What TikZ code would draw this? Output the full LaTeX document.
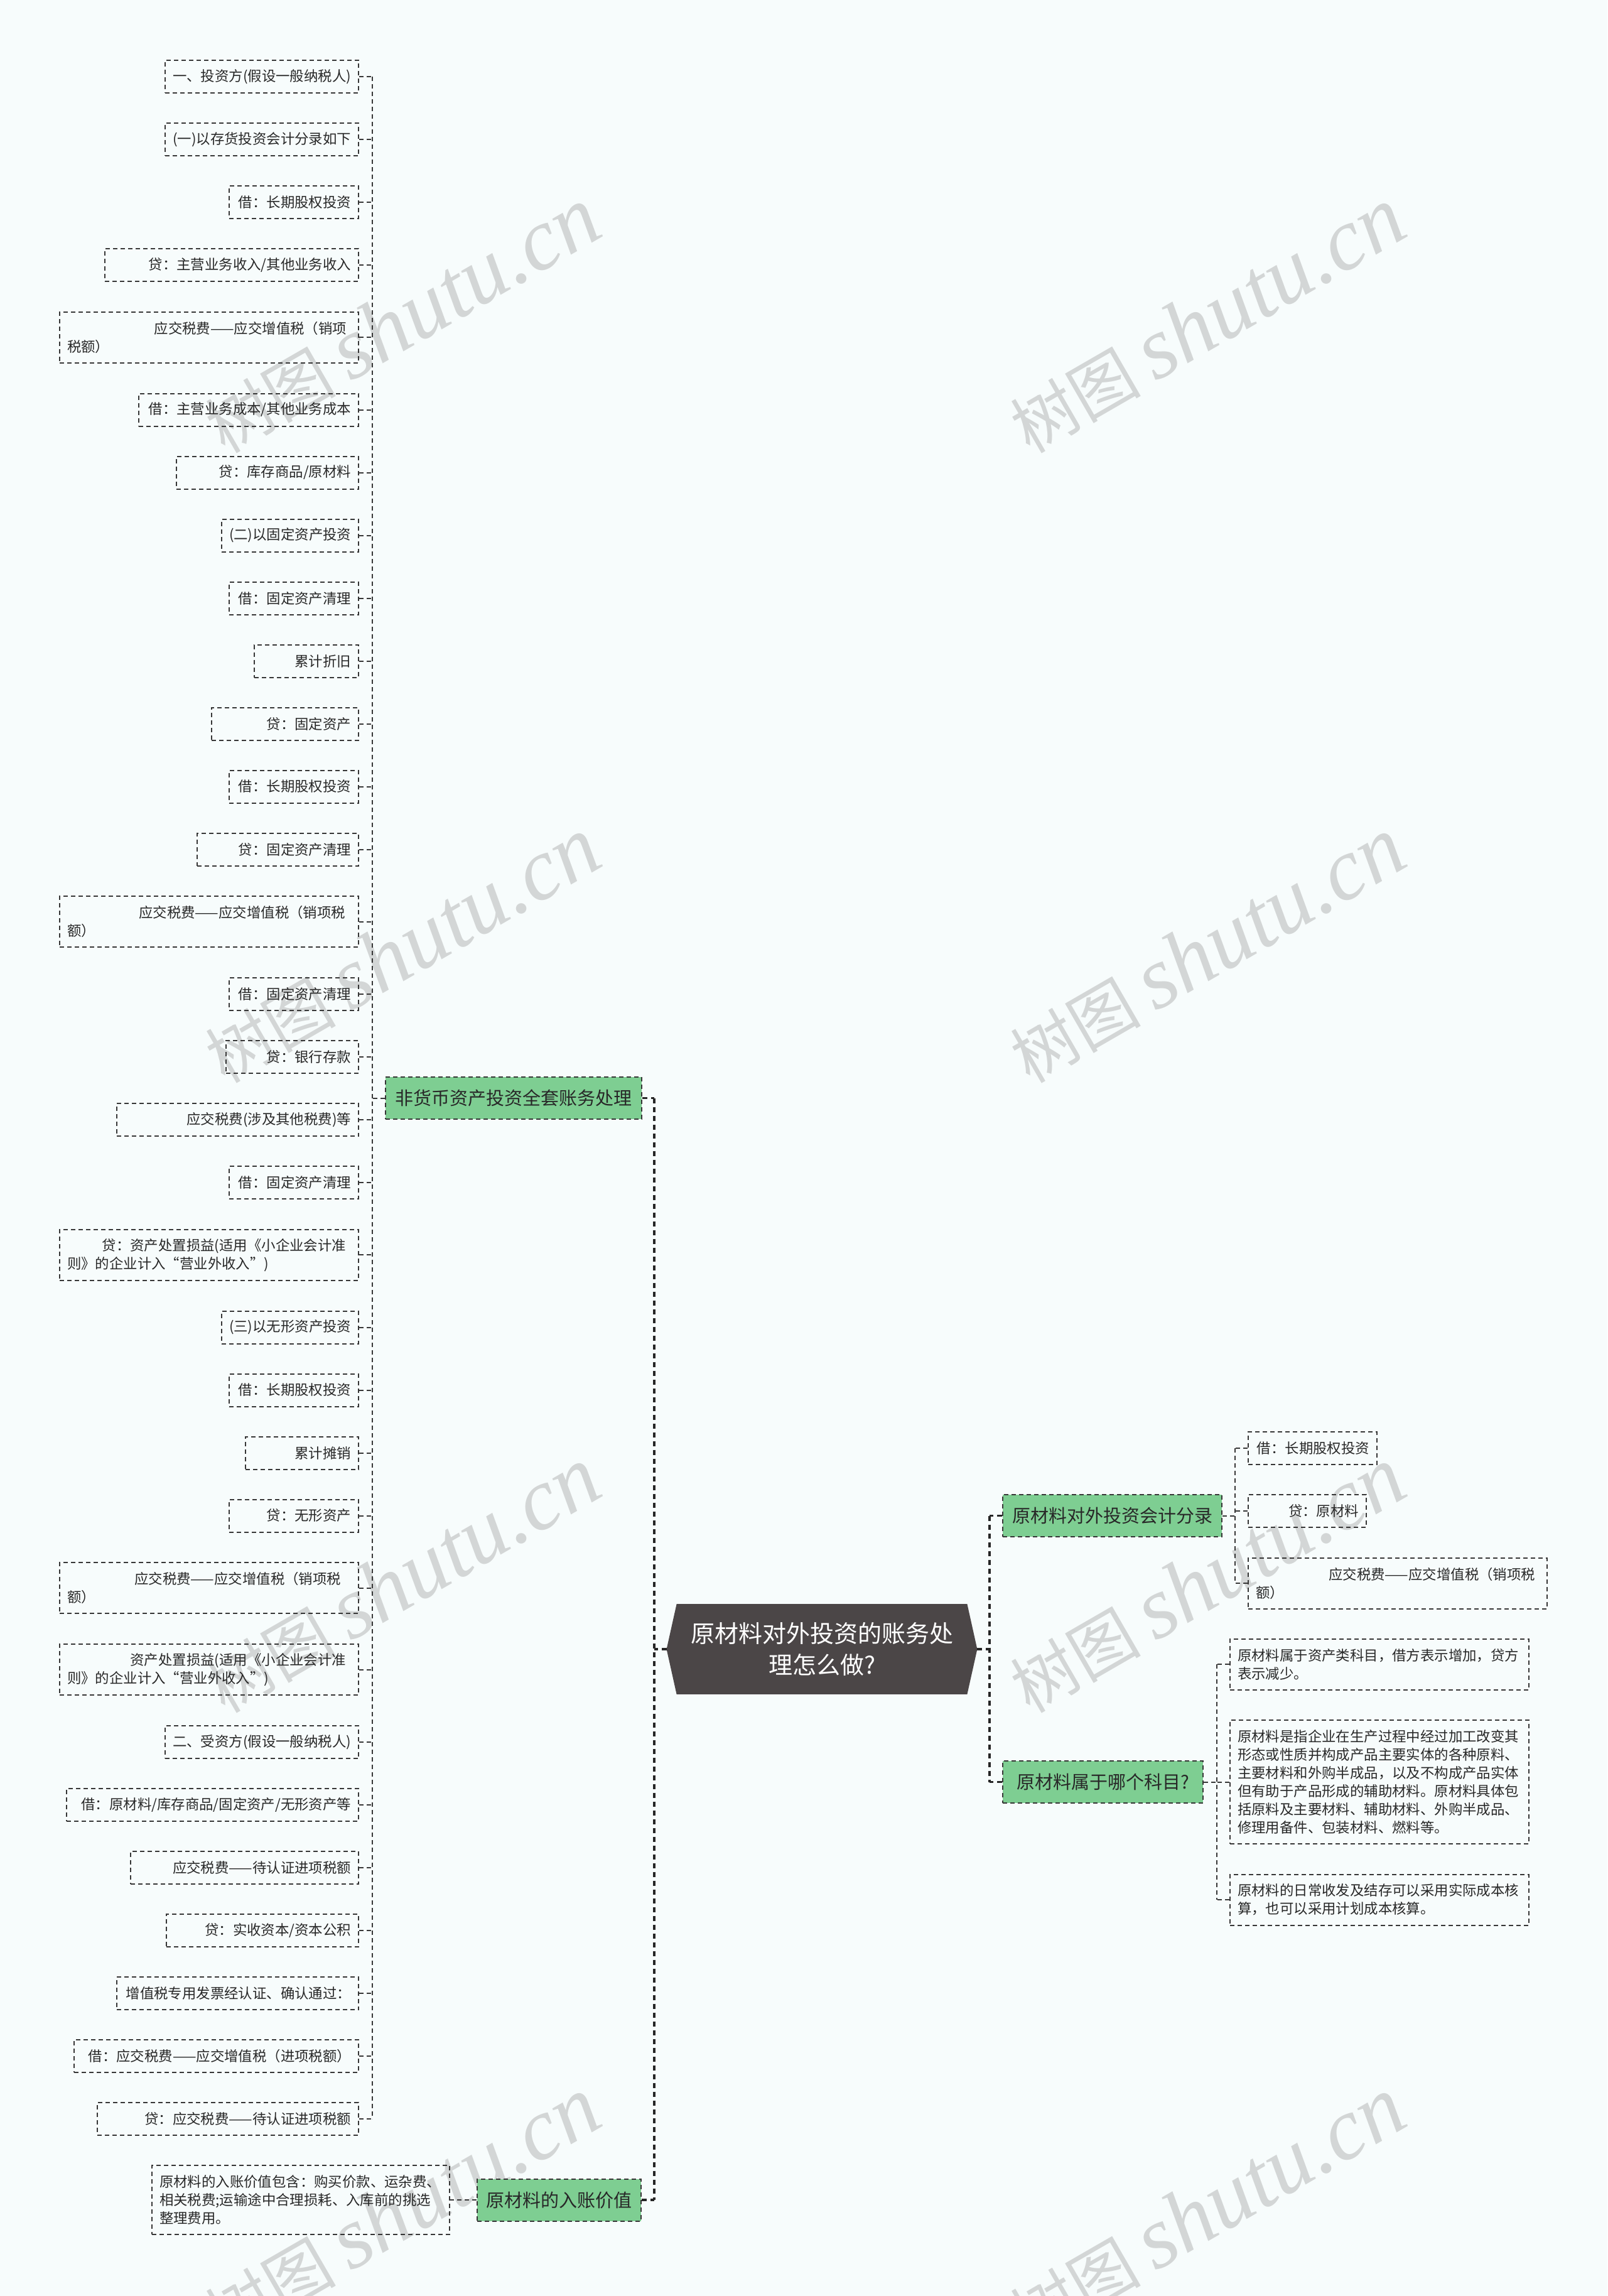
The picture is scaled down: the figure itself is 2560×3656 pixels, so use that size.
\documentclass[tikz,border=0pt]{standalone}
\usepackage{fontspec}
\setmainfont{Noto Sans CJK SC}
\newfontfamily\wmserif{Liberation Serif}
\usetikzlibrary{calc,backgrounds}
\pgfdeclarelayer{bottomlayer}
\pgfsetlayers{bottomlayer,background,main}
\definecolor{bgC}{RGB}{247,252,252}
\definecolor{lineC}{RGB}{55,55,55}
\definecolor{txtC}{RGB}{40,40,40}
\definecolor{greenC}{RGB}{126,206,146}
\definecolor{rootC}{RGB}{75,70,71}
\definecolor{wmC}{RGB}{211,214,214}
\tikzset{
  dashpat/.style={dash pattern=on 3.5pt off 2.5pt},
  leafbox/.style={draw=lineC, dashpat, line width=1pt, text=txtC,
    font=\fontsize{11.2}{14.5}\selectfont, inner xsep=6pt, inner ysep=0pt},
  lfR/.style 2 args={leafbox, align=right, text width=#1pt, minimum height=#2pt},
  lfL/.style 2 args={leafbox, align=left, text width=#1pt, minimum height=#2pt},
  gnode/.style={fill=greenC, draw=lineC, dashpat, line width=1pt, text=txtC,
    font=\fontsize{14.5}{18}\selectfont, inner sep=0pt, minimum height=33.5pt},
  rootnode/.style={text=white, font=\fontsize{19}{25}\selectfont, align=center,
    inner sep=0pt, minimum width=247pt, minimum height=71.5pt},
  conn/.style={draw=lineC, dashpat, line width=1pt},
  rconn/.style={draw=black!85, dash pattern=on 4pt off 3pt, line width=1.6pt},
  wm/.style={text=wmC, inner sep=0pt, rotate=30, font=\fontsize{52}{60}\selectfont}
}
\newcommand{\wmtext}{树图 {\wmserif\itshape\fontsize{70}{80}\selectfont shutu.cn}}
\begin{document}
\begin{tikzpicture}[x=0.5pt, y=-0.5pt]
\useasboundingbox (0,0) rectangle (2560,3656);
\begin{pgfonlayer}{bottomlayer}
\fill[bgC] (0,0) rectangle (2560,3656);
\begin{scope}
\clip (0,0) rectangle (2560,3656);
\node[wm] (w1) at (640,510) {\wmtext};
\node[wm] (w2) at (1922,510) {\wmtext};
\node[wm] (w3) at (640,1513) {\wmtext};
\node[wm] (w4) at (1922,1513) {\wmtext};
\node[wm] (w5) at (640,2516) {\wmtext};
\node[wm] (w6) at (1922,2516) {\wmtext};
\node[wm] (w7) at (640,3519) {\wmtext};
\node[wm] (w8) at (1922,3519) {\wmtext};
\end{scope}
\end{pgfonlayer}

% root
\node[rootnode] (root) at (1309,2626) {原材料对外投资的账务处\\理怎么做?};
\begin{pgfonlayer}{background}
\fill[rootC] ([xshift=8pt]root.north west) -- ([xshift=-8pt]root.north east) -- (root.east)
  -- ([xshift=-8pt]root.south east) -- ([xshift=8pt]root.south west) -- (root.west) -- cycle;
\end{pgfonlayer}

% level 1
\node[gnode, minimum width=204pt] (A) at (818,1748.5) {非货币资产投资全套账务处理};
\node[gnode, minimum width=130.5pt] (B) at (890.5,3503) {原材料的入账价值};
\node[gnode, minimum width=174.5pt] (C) at (1771.5,2413.5) {原材料对外投资会计分录};
\node[gnode, minimum width=159.5pt] (D) at (1756.5,2837.5) {原材料属于哪个科目?};

% left leaves
\node[lfR={142.25}{26}, anchor=east] (l1) at (572,122) {一、投资方(假设一般纳税人)};
\node[lfR={142.25}{26}, anchor=east] (l2) at (572,222) {(一)以存货投资会计分录如下};
\node[lfR={91}{26}, anchor=east] (l3) at (572,322) {借：长期股权投资};
\node[lfR={190}{26}, anchor=east] (l4) at (572,422) {贷：主营业务收入/其他业务收入};
\node[lfL={226}{40.5}, anchor=east] (l5) at (572,537.25) {\makebox[\linewidth][r]{应交税费——应交增值税（销项\hspace*{3.5pt}}\\税额）};
\node[lfR={163.25}{26}, anchor=east] (l6) at (572,652.5) {借：主营业务成本/其他业务成本};
\node[lfR={133}{26}, anchor=east] (l7) at (572,752.5) {贷：库存商品/原材料};
\node[lfR={97}{26}, anchor=east] (l8) at (572,852.5) {(二)以固定资产投资};
\node[lfR={91}{26}, anchor=east] (l9) at (572,952.5) {借：固定资产清理};
\node[lfR={71}{26}, anchor=east] (l10) at (572,1052.5) {累计折旧};
\node[lfR={105}{26}, anchor=east] (l11) at (572,1152.5) {贷：固定资产};
\node[lfR={91}{26}, anchor=east] (l12) at (572,1252.5) {借：长期股权投资};
\node[lfR={116.5}{26}, anchor=east] (l13) at (572,1352.5) {贷：固定资产清理};
\node[lfL={226}{40.5}, anchor=east] (l14) at (572,1467.75) {\makebox[\linewidth][r]{应交税费——应交增值税（销项税\hspace*{4.5pt}}\\额）};
\node[lfR={91}{26}, anchor=east] (l15) at (572,1583) {借：固定资产清理};
\node[lfR={93.5}{26}, anchor=east] (l16) at (572,1683) {贷：银行存款};
\node[lfR={180.75}{26}, anchor=east] (l17) at (572,1783) {应交税费(涉及其他税费)等};
\node[lfR={91}{26}, anchor=east] (l18) at (572,1883) {借：固定资产清理};
\node[lfL={226}{40.5}, anchor=east] (l19) at (572,1998.25) {\makebox[\linewidth][r]{贷：资产处置损益(适用《小企业会计准\hspace*{4pt}}\\则》的企业计入“营业外收入”)};
\node[lfR={97}{26}, anchor=east] (l20) at (572,2113.5) {(三)以无形资产投资};
\node[lfR={91}{26}, anchor=east] (l21) at (572,2213.5) {借：长期股权投资};
\node[lfR={78}{26}, anchor=east] (l22) at (572,2313.5) {累计摊销};
\node[lfR={91}{26}, anchor=east] (l23) at (572,2413.5) {贷：无形资产};
\node[lfL={226}{40.5}, anchor=east] (l24) at (572,2528.75) {\makebox[\linewidth][r]{应交税费——应交增值税（销项税\hspace*{8pt}}\\额）};
\node[lfL={226}{40.5}, anchor=east] (l25) at (572,2658.75) {\makebox[\linewidth][r]{资产处置损益(适用《小企业会计准\hspace*{4pt}}\\则》的企业计入“营业外收入”)};
\node[lfR={142.25}{26}, anchor=east] (l26) at (572,2774) {二、受资方(假设一般纳税人)};
\node[lfR={220.5}{26}, anchor=east] (l27) at (572,2874) {借：原材料/库存商品/固定资产/无形资产等};
\node[lfR={169.5}{26}, anchor=east] (l28) at (572,2974) {应交税费——待认证进项税额};
\node[lfR={141}{26}, anchor=east] (l29) at (572,3074) {贷：实收资本/资本公积};
\node[lfR={180.75}{26}, anchor=east] (l30) at (572,3174) {增值税专用发票经认证、确认通过：};
\node[lfR={214.5}{26}, anchor=east] (l31) at (572,3274) {借：应交税费——应交增值税（进项税额）};
\node[lfR={196}{26}, anchor=east] (l32) at (572,3374) {贷：应交税费——待认证进项税额};

% B child
\node[lfL={225}{55}, anchor=east] (bc) at (717,3503) {原材料的入账价值包含：购买价款、运杂费、\\相关税费;运输途中合理损耗、入库前的挑选\\整理费用。};

% C children
\node[lfR={90.5}{26}, anchor=west] (c1) at (1987,2306) {借：长期股权投资};
\node[lfR={82}{26}, anchor=west] (c2) at (1987,2406) {贷：原材料};
\node[lfL={226}{40.5}, anchor=west] (c3) at (1987,2521) {\makebox[\linewidth][r]{应交税费——应交增值税（销项税\hspace*{3.5pt}}\\额）};

% D children
\node[lfL={226}{40.5}, anchor=west] (d1) at (1958,2650) {原材料属于资产类科目，借方表示增加，贷方\\表示减少。};
\node[lfL={226}{98.5}, anchor=west] (d2) at (1958,2837.5) {原材料是指企业在生产过程中经过加工改变其\\形态或性质并构成产品主要实体的各种原料、\\主要材料和外购半成品，以及不构成产品实体\\但有助于产品形成的辅助材料。原材料具体包\\括原料及主要材料、辅助材料、外购半成品、\\修理用备件、包装材料、燃料等。};
\node[lfL={226}{40.5}, anchor=west] (d3) at (1958,3025) {原材料的日常收发及结存可以采用实际成本核\\算，也可以采用计划成本核算。};

% spine coordinates
\coordinate (sA) at (593,0);
\coordinate (sL) at (1042,0);
\coordinate (sR) at (1576,0);
\coordinate (sC) at (1967,0);
\coordinate (sD) at (1938,0);

% root connectors
\draw[rconn] (A.east -| sL) -- (B.east -| sL);
\draw[rconn] (root.west) -- (root.west -| sL);
\draw[rconn] (A.east) -- (A.east -| sL);
\draw[rconn] (B.east) -- (B.east -| sL);
\draw[rconn] (C.west -| sR) -- (D.west -| sR);
\draw[rconn] (root.east) -- (root.east -| sR);
\draw[rconn] (C.west) -- (C.west -| sR);
\draw[rconn] (D.west) -- (D.west -| sR);

% A children
\draw[conn] (l1.east -| sA) -- (l32.east -| sA);
\draw[conn] (A.west) -- (A.west -| sA);
\foreach \i in {1,...,32} { \draw[conn] (l\i.east) -- (l\i.east -| sA); }

% B child
\draw[conn] (B.west) -- (bc.east);

% C children
\draw[conn] (c1.west -| sC) -- (c3.west -| sC);
\draw[conn] (C.east) -- (C.east -| sC);
\foreach \n in {c1,c2,c3} { \draw[conn] (\n.west) -- (\n.west -| sC); }

% D children
\draw[conn] (d1.west -| sD) -- (d3.west -| sD);
\draw[conn] (D.east) -- (D.east -| sD);
\foreach \n in {d1,d2,d3} { \draw[conn] (\n.west) -- (\n.west -| sD); }
\end{tikzpicture}
\end{document}
